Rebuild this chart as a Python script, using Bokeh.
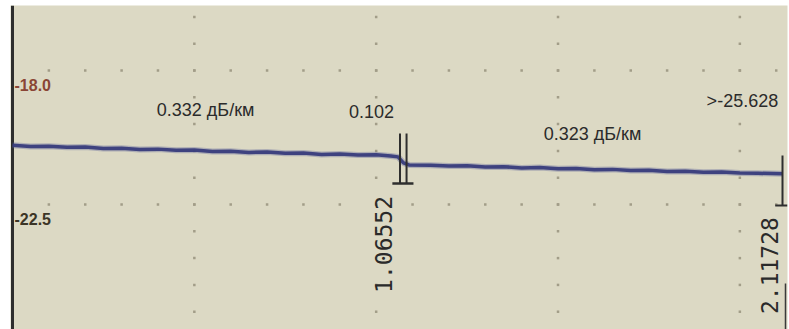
import numpy as np
from bokeh.plotting import figure
from bokeh.models import Range1d
from bokeh.core.properties import value
from bokeh.embed import file_html
from bokeh.resources import INLINE

# ---- data ----
trace_km = [0.00, 0.05, 0.10, 0.15, 0.20, 0.25, 0.30, 0.35, 0.40, 0.45,
            0.50, 0.55, 0.60, 0.65, 0.70, 0.75, 0.80, 0.85, 0.90, 0.95,
            1.00, 1.04, 1.06, 1.075, 1.09, 1.15, 1.20, 1.25, 1.30, 1.35,
            1.40, 1.45, 1.50, 1.55, 1.60, 1.65, 1.70, 1.75, 1.80, 1.85,
            1.90, 1.95, 2.00, 2.05, 2.11728]
trace_db = [-20.51, -20.55, -20.54, -20.58, -20.57, -20.62, -20.61, -20.65, -20.64, -20.68,
            -20.67, -20.72, -20.71, -20.75, -20.74, -20.78, -20.77, -20.82, -20.80, -20.84,
            -20.83, -20.87, -20.90, -21.10, -21.17, -21.18, -21.21, -21.20, -21.24, -21.23,
            -21.27, -21.26, -21.30, -21.29, -21.33, -21.32, -21.36, -21.35, -21.39, -21.38,
            -21.42, -21.41, -21.44, -21.45, -21.47]

event_km = [1.06552, 2.11728]
event_labels = ["1.06552", "2.11728"]
event_label_km = [1.020, 2.082]
event_label_db = [-23.84, -24.55]

seg_labels = ["0.332 дБ/км", "0.102", "0.323 дБ/км", ">-25.628"]
seg_label_km = [0.531, 0.987, 1.595, 2.007]
seg_label_db = [-19.31, -19.38, -20.12, -19.01]

y_tick_values = [-18.0, -22.5]
y_tick_labels = ["-18.0", "-22.5"]
y_tick_colors = ["#8a4535", "#3b3526"]

x_major = [0.0, 0.5, 1.0, 1.5, 2.0]
x_minor_step = 0.1
y_minor_step = 0.9

# ---- figure ----
W, H = 789, 329
x0, x1 = -0.0055, 2.131
y0, y1 = -26.697, -15.817
bg = "#dcd9c4"
p = figure(width=W, height=H, output_backend="svg", toolbar_location=None,
           x_range=Range1d(x0, x1), y_range=Range1d(y0, y1),
           background_fill_color=bg, border_fill_color="white",
           min_border_left=10, min_border_top=5, min_border_right=2, min_border_bottom=0,
           outline_line_color=None)
p.axis.visible = False
p.grid.visible = False

# grid dots
gx = np.round(np.arange(x_minor_step, x1, x_minor_step), 3)
row_x, row_y = [], []
for yv in y_tick_values:
    row_x += list(gx)
    row_y += [yv] * len(gx)
ups = np.arange(y_tick_values[0], y1, y_minor_step)
downs = np.arange(y_tick_values[0], y0, -y_minor_step)
gy = np.unique(np.round(np.concatenate([ups, downs]), 3))
for xv in x_major[1:]:
    row_x += [xv] * len(gy)
    row_y += list(gy)
p.scatter(row_x, row_y, marker="square", size=2.5, color="#a29d88", line_color=None)

# left frame line
p.segment(x0=[0.0], y0=[y0], x1=[0.0], y1=[y1], line_color="#2e2e2e", line_width=3)

# trace (soft halo + core)
p.line(trace_km, trace_db, line_color="#5a5e98", line_width=6, line_alpha=0.35)
p.line(trace_km, trace_db, line_color="#383c7c", line_width=3.5, line_alpha=0.95)

# event markers
ev = event_km[0]
d = 0.018
p.segment(x0=[ev, ev + d], y0=[-20.115, -20.115], x1=[ev, ev + d], y1=[-21.795, -21.795],
          line_color="#2e2e2e", line_width=2)
p.segment(x0=[ev - 0.021], y0=[-21.795], x1=[ev + 0.037], y1=[-21.795],
          line_color="#2e2e2e", line_width=2.5)
ee = event_km[1]
p.segment(x0=[ee], y0=[-20.854], x1=[ee], y1=[-22.533], line_color="#2e2e2e", line_width=2)
p.segment(x0=[ee - 0.02], y0=[-22.533], x1=[x1], y1=[-22.533], line_color="#2e2e2e", line_width=2)
p.segment(x0=[2.1255], y0=[-25.15], x1=[2.1255], y1=[y0], line_color="#3a3a3a", line_width=1.5)

# rotated distance labels
p.text(x=event_label_km, y=event_label_db, text=event_labels,
       angle=np.pi / 2, text_align="center", text_baseline="middle",
       text_font=value("DejaVu Sans Mono"), text_font_size="23px", text_color="#2a2a2a")

sans = "Liberation Sans"
p.text(x=seg_label_km, y=seg_label_db, text=seg_labels, text_align="center",
       text_baseline="middle", text_font=value(sans), text_font_size="18px",
       text_color="#2b2b2b")

p.text(x=[0.0055, 0.0055], y=[-18.50, -22.97], text=y_tick_labels, text_color=y_tick_colors,
       text_align="left", text_baseline="middle", text_font=value(sans),
       text_font_size="16px", text_font_style="bold")

open("out.html", "w").write(file_html(p, INLINE))
